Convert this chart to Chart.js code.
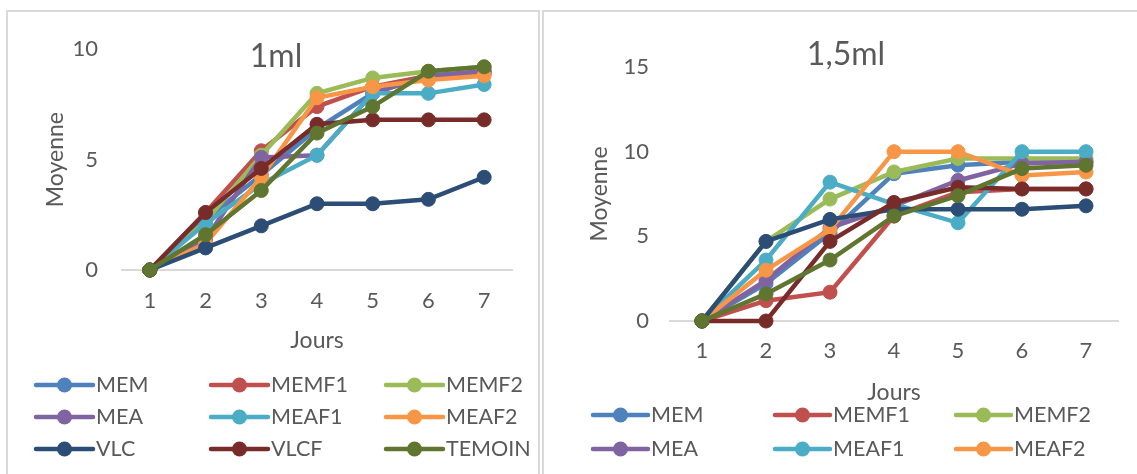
<!DOCTYPE html>
<html>
<head>
<meta charset="utf-8">
<script src="https://cdn.jsdelivr.net/npm/chart.js@4.4.0/dist/chart.umd.min.js"></script>
<style>
  html, body { margin: 0; padding: 0; background: #fff; overflow: hidden; width: 1137px; height: 474px; }
  .frame { position: absolute; border: 2px solid #d9d9d9; box-sizing: border-box; }
  #f1 { left: 6px; top: 10px; width: 534px; height: 520px; }
  #f2 { left: 542px; top: 10px; width: 660px; height: 520px; }
  canvas { position: absolute; }
  #c1 { left: 8px; top: 12px; }
  #c2 { left: 544px; top: 12px; }
</style>
</head>
<body>
<div class="frame" id="f1"></div>
<div class="frame" id="f2"></div>
<canvas id="c1" width="530" height="470"></canvas>
<canvas id="c2" width="600" height="470"></canvas>
<script>
// Days of observation
const days = ['1', '2', '3', '4', '5', '6', '7'];
const seriesNames = ['MEM', 'MEMF1', 'MEMF2', 'MEA', 'MEAF1', 'MEAF2', 'VLC', 'VLCF', 'TEMOIN'];
const seriesColors = ['#4F81BD', '#C0504D', '#9BBB59', '#8064A2', '#4BACC6', '#F79646', '#2C4D75', '#772C2A', '#5F7530'];

// Mean scores, dose 1 ml
const mem1    = [0, 2.3, 4.3, 6.4, 8.0, 8.8, 9.0];
const memf1_1 = [0, 2.6, 5.4, 7.4, 8.3, 8.8, 8.9];
const memf2_1 = [0, 2.2, 5.2, 8.0, 8.7, 9.0, 9.2];
const mea1    = [0, 1.4, 5.1, 5.2, 8.0, 8.8, 9.0];
const meaf1_1 = [0, 2.1, 3.9, 5.2, 8.0, 8.0, 8.4];
const meaf2_1 = [0, 1.2, 4.2, 7.8, 8.3, 8.6, 8.8];
const vlc1    = [0, 1.0, 2.0, 3.0, 3.0, 3.2, 4.2];
const vlcf1   = [0, 2.6, 4.6, 6.6, 6.8, 6.8, 6.8];
const temoin1 = [0, 1.6, 3.6, 6.2, 7.4, 9.0, 9.2];

// Mean scores, dose 1,5 ml
const mem15    = [0, 2.2, 5.2, 8.7, 9.2, 9.4, 9.4];
const memf1_15 = [0, 1.2, 1.7, 6.2, 7.6, 7.8, 7.8];
const memf2_15 = [0, 4.7, 7.2, 8.8, 9.6, 9.6, 9.6];
const mea15    = [0, 2.4, 5.5, 6.8, 8.3, 9.3, 9.4];
const meaf1_15 = [0, 3.6, 8.2, 6.9, 5.8, 10.0, 10.0];
const meaf2_15 = [0, 3.0, 5.4, 10.0, 10.0, 8.6, 8.8];
const vlc15    = [0, 4.7, 6.0, 6.6, 6.6, 6.6, 6.8];
const vlcf15   = [0, 0, 4.7, 7.0, 7.9, 7.8, 7.8];
const temoin15 = [0, 1.6, 3.6, 6.2, 7.4, 9.0, 9.2];

const yTicks1 = [0, 5, 10];
const yTicks15 = [0, 5, 10, 15];

const FONT = 'Lato, "Open Sans", sans-serif';
const TEXT = '#595959';

function buildDatasets(values) {
  return values.map((v, i) => ({
    label: seriesNames[i],
    data: v,
    borderColor: seriesColors[i],
    backgroundColor: seriesColors[i],
    pointBackgroundColor: seriesColors[i],
    pointBorderColor: seriesColors[i],
    borderWidth: 4.5,
    pointRadius: 7,
    pointBorderWidth: 1,
    tension: 0,
    clip: false,
    order: values.length - i   // later series are painted on top
  }));
}

// Legend laid out as a 3-column grid, each key a line with a round marker
const gridLegend = {
  id: 'gridLegend',
  afterDraw(chart, args, o) {
    const ctx = chart.ctx;
    ctx.save();
    ctx.font = o.size + 'px ' + FONT;
    ctx.textBaseline = 'middle';
    ctx.textAlign = 'left';
    chart.data.datasets.forEach((ds, i) => {
      const x = o.cols[i % 3];
      const y = o.rows[Math.floor(i / 3)];
      ctx.strokeStyle = ds.borderColor;
      ctx.lineWidth = 4.5;
      ctx.lineCap = 'round';
      ctx.beginPath();
      ctx.moveTo(x, y);
      ctx.lineTo(x + o.lineW, y);
      ctx.stroke();
      ctx.fillStyle = ds.borderColor;
      ctx.beginPath();
      ctx.arc(x + o.lineW / 2, y, 7.5, 0, Math.PI * 2);
      ctx.fill();
      ctx.fillStyle = TEXT;
      ctx.fillText(ds.label, x + o.lineW + o.gap, y);
    });
    ctx.restore();
  }
};

// Chart heading drawn over the top of the plot area
const overlayTitle = {
  id: 'overlayTitle',
  afterDraw(chart, args, o) {
    const ctx = chart.ctx;
    ctx.save();
    ctx.font = o.size + 'px ' + FONT;
    ctx.fillStyle = TEXT;
    ctx.textAlign = 'center';
    ctx.textBaseline = 'middle';
    ctx.fillText(o.text, o.x, o.y);
    ctx.restore();
  }
};

function makeChart(id, cfg) {
  return new Chart(document.getElementById(id), {
    type: 'line',
    data: { labels: days, datasets: buildDatasets(cfg.values) },
    plugins: [gridLegend, overlayTitle],
    options: {
      responsive: false,
      animation: false,
      events: [],
      layout: { padding: { left: 0, right: cfg.padRight, top: cfg.padTop, bottom: cfg.padBottom } },
      plugins: {
        legend: { display: false },
        tooltip: { enabled: false },
        gridLegend: cfg.legend,
        overlayTitle: cfg.title
      },
      scales: {
        x: {
          offset: true,
          afterFit: s => { s.height = cfg.xHeight; },
          grid: { display: false, drawTicks: false, tickLength: 0 },
          border: { display: true, color: '#d9d9d9', width: 2 },
          ticks: { color: TEXT, font: { family: FONT, size: 22 }, padding: cfg.xTickPad, maxRotation: 0 },
          title: { display: true, text: 'Jours', color: TEXT, font: { family: FONT, size: 23 }, padding: { top: 0, bottom: cfg.xTitlePad } }
        },
        y: {
          min: 0,
          max: cfg.yMax,
          afterFit: s => { s.width = cfg.yWidth; },
          afterBuildTicks: s => { s.ticks = cfg.yTicks.map(v => ({ value: v })); },
          grid: { display: false, drawTicks: false, tickLength: 0 },
          border: { display: false },
          ticks: { color: TEXT, font: { family: FONT, size: 22 }, padding: cfg.yTickPad },
          title: { display: true, text: 'Moyenne', color: TEXT, font: { family: FONT, size: 23 }, padding: { top: cfg.yTitlePad, bottom: 0 } }
        }
      }
    }
  });
}

makeChart('c1', {
  values: [mem1, memf1_1, memf2_1, mea1, meaf1_1, meaf2_1, vlc1, vlcf1, temoin1],
  yMax: 10, yTicks: yTicks1,
  padRight: 26, padTop: 37, padBottom: 112,
  xHeight: 100, yWidth: 114,
  xTickPad: 18, xTitlePad: 16, yTickPad: 24, yTitlePad: 34,
  legend: { cols: [28, 203, 378], rows: [373, 405, 437], lineW: 57, gap: 3, size: 21.5 },
  title: { text: '1ml', x: 268, y: 45, size: 32 }
});

makeChart('c2', {
  values: [mem15, memf1_15, memf2_15, mea15, meaf1_15, meaf2_15, vlc15, vlcf15, temoin15],
  yMax: 15, yTicks: yTicks15,
  padRight: 26, padTop: 55, padBottom: 61,
  xHeight: 100, yWidth: 126,
  xTickPad: 17, xTitlePad: 15, yTickPad: 21, yTitlePad: 42,
  legend: { cols: [49, 231, 412], rows: [403, 437, 490], lineW: 55, gap: 3, size: 21.5 },
  title: { text: '1,5ml', x: 302, y: 43, size: 32 }
});
</script>
</body>
</html>
